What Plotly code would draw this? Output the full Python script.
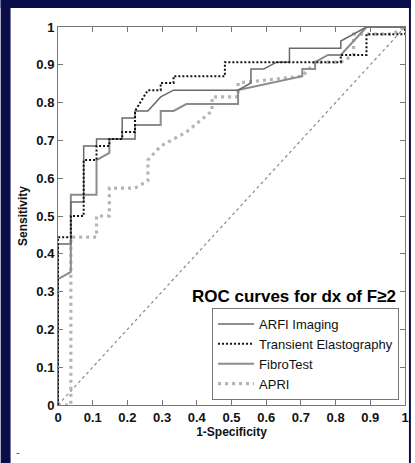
import plotly.graph_objects as go

# ---- data ----
arfi_x = [0, 0, 0.037, 0.037, 0.074, 0.074, 0.111, 0.111, 0.185, 0.185, 0.222, 0.222, 0.259, 0.296, 0.333, 0.519, 0.556, 0.556, 0.593, 0.630, 0.667, 0.667, 0.815, 0.815, 0.889, 1]
arfi_y = [0, 0.426, 0.426, 0.537, 0.537, 0.685, 0.685, 0.704, 0.704, 0.759, 0.759, 0.778, 0.778, 0.815, 0.833, 0.833, 0.852, 0.889, 0.889, 0.907, 0.907, 0.944, 0.944, 0.963, 1, 1]

te_x = [0, 0, 0.037, 0.037, 0.074, 0.074, 0.111, 0.111, 0.148, 0.148, 0.185, 0.185, 0.222, 0.222, 0.259, 0.296, 0.296, 0.333, 0.333, 0.481, 0.481, 0.815, 0.815, 0.889, 0.889, 1, 1]
te_y = [0, 0.444, 0.444, 0.5, 0.5, 0.648, 0.648, 0.685, 0.685, 0.704, 0.704, 0.722, 0.722, 0.778, 0.833, 0.833, 0.852, 0.852, 0.870, 0.870, 0.907, 0.907, 0.926, 0.926, 0.981, 0.981, 1]

fibro_x = [0, 0, 0.037, 0.037, 0.111, 0.111, 0.148, 0.148, 0.222, 0.222, 0.296, 0.296, 0.333, 0.370, 0.519, 0.519, 0.704, 0.704, 0.741, 0.741, 0.778, 0.815, 0.852, 0.889, 1]
fibro_y = [0, 0.333, 0.352, 0.556, 0.556, 0.648, 0.667, 0.704, 0.704, 0.741, 0.741, 0.778, 0.778, 0.796, 0.796, 0.833, 0.870, 0.889, 0.889, 0.907, 0.926, 0.926, 0.963, 1, 1]

apri_x = [0, 0.037, 0.037, 0.111, 0.111, 0.148, 0.148, 0.222, 0.259, 0.259, 0.296, 0.370, 0.444, 0.444, 0.519, 0.519, 0.704, 0.741, 0.815, 0.852, 0.852, 0.963, 1]
apri_y = [0, 0, 0.444, 0.444, 0.5, 0.5, 0.574, 0.574, 0.593, 0.648, 0.685, 0.722, 0.778, 0.815, 0.815, 0.852, 0.870, 0.907, 0.907, 0.926, 0.981, 0.981, 1]

chance_x = [0, 1]
chance_y = [0, 1]

tick_vals = [0, 0.1, 0.2, 0.3, 0.4, 0.5, 0.6, 0.7, 0.8, 0.9, 1]
tick_text = ["0", "0.1", "0.2", "0.3", "0.4", "0.5", "0.6", "0.7", "0.8", "0.9", "1"]

W, H = 415, 463
L, R, T, B = 58, 6, 27, 58
PW, PH = W - L - R, H - T - B
NAVY = "#0b0d4a"


def px2x(px):
    return (px - L) / PW


def py2y(py):
    return (H - B - py) / PH


fig = go.Figure()
fig.add_trace(go.Scatter(x=chance_x, y=chance_y, mode="lines", showlegend=False,
                         line=dict(color="#8a8a8a", width=1.2, dash="3px,3px"), hoverinfo="skip"))
fig.add_trace(go.Scatter(x=apri_x, y=apri_y, mode="lines", name="APRI", legendrank=4,
                         line=dict(color="#b4b4b4", width=3.2, dash="3px,4px")))
fig.add_trace(go.Scatter(x=fibro_x, y=fibro_y, mode="lines", name="FibroTest", legendrank=3,
                         line=dict(color="#8c8c8c", width=2)))
fig.add_trace(go.Scatter(x=arfi_x, y=arfi_y, mode="lines", name="ARFI Imaging", legendrank=1,
                         line=dict(color="#6a6a6a", width=1.5)))
fig.add_trace(go.Scatter(x=te_x, y=te_y, mode="lines", name="Transient Elastography", legendrank=2,
                         line=dict(color="#111111", width=2, dash="2px,2px")))

axis_common = dict(
    range=[0, 1], tickvals=tick_vals, ticktext=tick_text,
    ticks="inside", ticklen=5, tickcolor="#777777", tickwidth=1,
    showline=True, linecolor="#777777", linewidth=1, mirror="ticks",
    showgrid=False, zeroline=False,
    tickfont=dict(family="Liberation Sans, Arial", size=13, color="#111111", weight="bold"),
)

fig.update_xaxes(**axis_common,
                 title=dict(text="1-Specificity", standoff=0,
                            font=dict(family="Liberation Sans, Arial", size=12, color="#111111", weight="bold")))
fig.update_yaxes(**axis_common,
                 title=dict(text="Sensitivity", standoff=6,
                            font=dict(family="Liberation Sans, Arial", size=12, color="#111111", weight="bold")))

# navy frame around the white slide area
shapes = [
    dict(type="rect", xref="paper", yref="paper", x0=px2x(0), x1=px2x(10), y0=py2y(H), y1=py2y(0),
         fillcolor=NAVY, line=dict(width=0), layer="below"),
    dict(type="rect", xref="paper", yref="paper", x0=px2x(0), x1=px2x(W), y0=py2y(8), y1=py2y(0),
         fillcolor=NAVY, line=dict(width=0), layer="below"),
    dict(type="rect", xref="paper", yref="paper", x0=px2x(413), x1=px2x(W), y0=py2y(H), y1=py2y(0),
         fillcolor=NAVY, line=dict(width=0), layer="below"),
]

annotations = [
    dict(text="ROC curves for dx of F\u22652", xref="paper", yref="paper",
         x=px2x(402), y=py2y(296), xanchor="right", yanchor="middle", showarrow=False,
         font=dict(family="Liberation Sans, Arial", size=17, color="#000000", weight="bold")),
    dict(text="-", xref="paper", yref="paper", x=px2x(18), y=py2y(452), showarrow=False,
         xanchor="center", yanchor="middle", font=dict(family="Liberation Sans, Arial", size=11, color="#444444")),
]

fig.update_layout(
    width=W, height=H,
    margin=dict(l=L, r=R, t=T, b=B),
    paper_bgcolor="white", plot_bgcolor="white",
    shapes=shapes, annotations=annotations,
    showlegend=True,
    legend=dict(x=px2x(403), y=py2y(400), xanchor="right", yanchor="bottom",
                bgcolor="white", bordercolor="#777777", borderwidth=1,
                font=dict(family="Liberation Sans, Arial", size=13, color="#111111"),
                tracegroupgap=0, itemwidth=36),
)

fig.write_html("out.html")
